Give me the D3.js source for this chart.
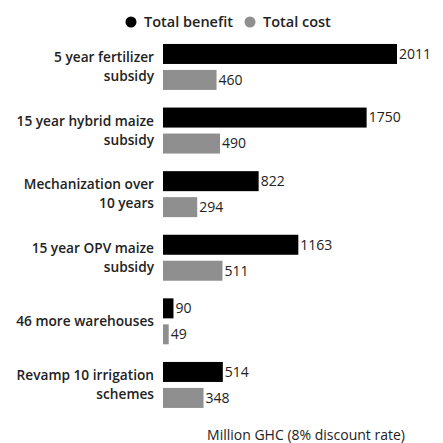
<!DOCTYPE html>
<html>
<head>
<meta charset="utf-8">
<script src="https://cdn.jsdelivr.net/npm/d3@7"></script>
<style>
  body { margin: 0; background: #fff; }
  svg { font-family: "Open Sans", Roboto, sans-serif; }
</style>
</head>
<body>
<div id="chart"></div>
<script>
// data
const categories = [
  ['5 year fertilizer', 'subsidy'],
  ['15 year hybrid maize', 'subsidy'],
  ['Mechanization over', '10 years'],
  ['15 year OPV maize', 'subsidy'],
  ['46 more warehouses'],
  ['Revamp 10 irrigation', 'schemes']
];
const totalBenefit = [2011, 1750, 822, 1163, 90, 514];
const totalCost = [460, 490, 294, 511, 49, 348];
const seriesNames = ['Total benefit', 'Total cost'];
const seriesColors = ['#000000', '#8f8f8f'];
const axisTitle = 'Million GHC (8% discount rate)';

const width = 443, height = 443;
const left = 163;

const svg = d3.select('#chart').append('svg')
  .attr('width', width)
  .attr('height', height);

const idx = d3.range(categories.length);

const y0 = d3.scaleBand()
  .domain(idx)
  .range([37.6, 414.3])
  .paddingInner(0.277)
  .paddingOuter(0.1);

const y1 = d3.scaleBand()
  .domain([0, 1])
  .range([0, y0.bandwidth()])
  .paddingInner(0.23);

const x = d3.scaleLinear()
  .domain([0, 2011])
  .range([left, 397]);

const series = [totalBenefit, totalCost];

const groups = svg.selectAll('g.group')
  .data(idx)
  .enter().append('g')
  .attr('class', 'group')
  .attr('transform', i => `translate(0,${y0(i)})`);

// bars + value labels
series.forEach((vals, s) => {
  groups.append('rect')
    .attr('x', x(0))
    .attr('y', y1(s))
    .attr('width', i => x(vals[i]) - x(0))
    .attr('height', y1.bandwidth())
    .attr('fill', seriesColors[s]);

  groups.append('text')
    .attr('x', i => x(vals[i]) + 2)
    .attr('y', y1(s) + y1.bandwidth() / 2)
    .attr('dy', '0.35em')
    .style('font-size', '14px')
    .style('fill', '#222')
    .text(i => vals[i]);
});

// category labels (right aligned, wrapped)
groups.append('text')
  .attr('text-anchor', 'end')
  .style('font-size', '13.7px')
  .style('font-weight', '600')
  .style('fill', '#222')
  .each(function (i) {
    const lines = categories[i];
    const lh = 19;
    const mid = y0.bandwidth() / 2;
    const start = mid - (lines.length - 1) * lh / 2;
    d3.select(this).selectAll('tspan')
      .data(lines)
      .enter().append('tspan')
      .attr('x', left - 9)
      .attr('y', (d, k) => start + k * lh)
      .attr('dy', '0.35em')
      .text(d => d);
  });

// legend
const legend = svg.append('g').attr('transform', 'translate(131,22)');
const legendX = [0, 119];
seriesNames.forEach((name, s) => {
  legend.append('circle')
    .attr('cx', legendX[s])
    .attr('cy', 0)
    .attr('r', 5.5)
    .attr('fill', seriesColors[s]);
  legend.append('text')
    .attr('x', legendX[s] + 13)
    .attr('y', 0)
    .attr('dy', '0.35em')
    .style('font-size', '14.5px')
    .style('font-weight', '600')
    .style('fill', '#222')
    .text(name);
});

// axis title
svg.append('text')
  .attr('x', 306)
  .attr('y', 435)
  .attr('text-anchor', 'middle')
  .attr('dy', '0.35em')
  .style('font-size', '14px')
  .style('fill', '#222')
  .text(axisTitle);
</script>
</body>
</html>
